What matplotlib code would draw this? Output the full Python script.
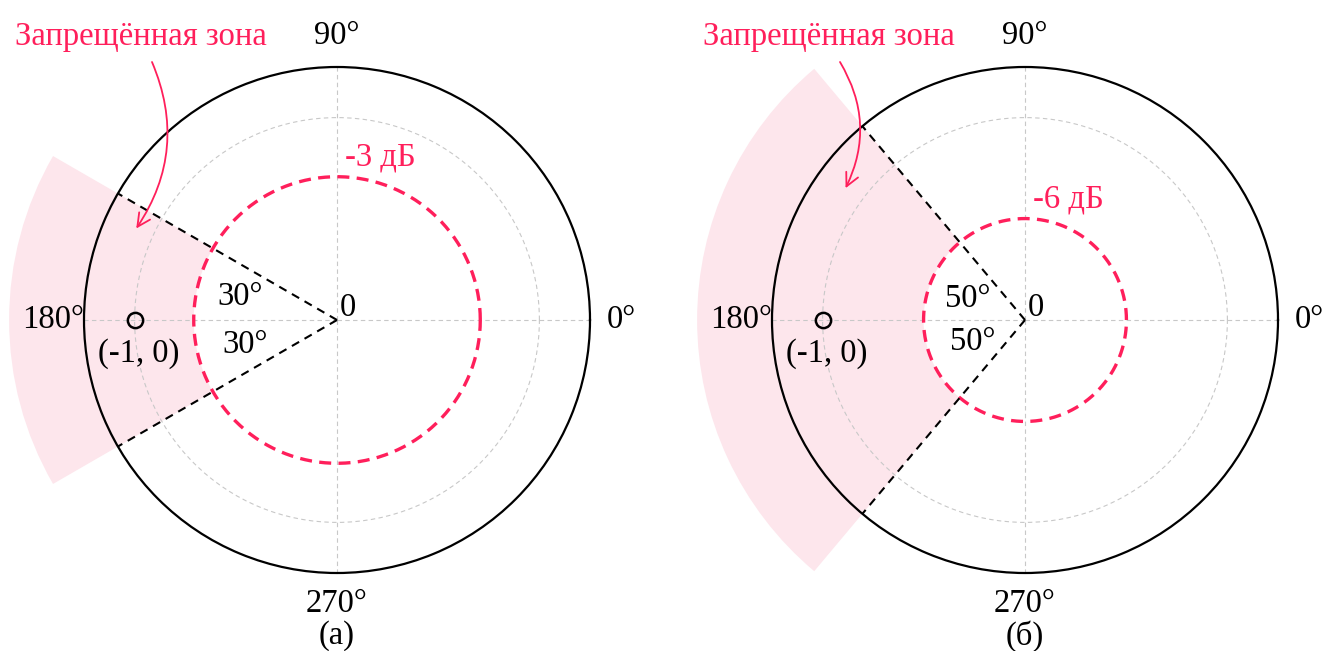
import numpy as np
import matplotlib
matplotlib.use('Agg')
import matplotlib.pyplot as plt

plt.rcParams['font.family'] = ['Liberation Serif', 'DejaVu Serif']
plt.rcParams['font.size'] = 23.5

# данные двух диаграмм
half_angles = [30, 50]            # половина запрещённой зоны, град
db_levels = [-3, -6]              # уровень запаса по усилению
db_labels = ['-3 дБ', '-6 дБ']
captions = ['(а)', '(б)']
zone_label = 'Запрещённая зона'
r_outer = 1.25                    # граница графика
r_zone = 1.62                     # внешний край розовой зоны
crit_point = (np.pi, 1.0)         # точка (-1, 0)

# положения подписей углов (theta, r) и конца стрелки
angle_label_pos = [[(166.7, 0.49), (195.2, 0.47)],
                   [(159.8, 0.30), (202.9, 0.28)]]
arrow_end = [(155.5, 1.09), (143.7, 1.10)]

red = '#ff1f5b'
pink = '#fde6ec'

fig = plt.figure(figsize=(13.26, 6.51), dpi=100)
lefts = [84 / 1326, 772 / 1326]

for i in range(2):
    ax = fig.add_axes([lefts[i], 78 / 651, 506 / 1326, 506 / 651], projection='polar')
    ax.set_ylim(0, r_outer)
    ax.set_yticks([1.0])
    ax.set_yticklabels([])
    ax.set_thetagrids([0, 90, 180, 270], labels=['0°', '90°', '180°', '270°'])
    ax.tick_params(axis='x', pad=12, labelsize=23.5)
    ax.grid(color='#c8c8c8', ls=(0, (4, 3)), lw=0.8)
    ax.spines['polar'].set_linewidth(1.6)

    r_db = 10 ** (db_levels[i] / 20)
    half = np.deg2rad(half_angles[i])

    # запрещённая зона
    ax.bar(np.pi, r_zone - r_db, width=2 * half, bottom=r_db, color=pink,
           edgecolor='none', clip_on=False, zorder=0.5)

    # окружность уровня дБ
    th = np.linspace(0, 2 * np.pi, 400)
    ax.plot(th, np.full_like(th, r_db), color=red, lw=2.4, ls=(0, (3.6, 2.2)), zorder=3)

    # границы зоны
    for a in [np.pi - half, np.pi + half]:
        ax.plot([a, a], [0, r_outer], color='black', lw=1.5, ls=(0, (4, 3)), zorder=3)

    # точка (-1, 0)
    ax.plot(*crit_point, 'o', mfc='none', mec='black', ms=11, mew=1.8, zorder=4)
    ax.annotate('(-1, 0)', xy=crit_point, xytext=(3, -24), textcoords='offset points',
                ha='center', va='center')

    ax.annotate('0', xy=(0, 0), xytext=(8, 9), textcoords='offset points',
                ha='center', va='center')
    ax.annotate(db_labels[i], xy=(np.pi / 2, r_db), xytext=(31, 14),
                textcoords='offset points', ha='center', va='center', color=red)

    for (t, r) in angle_label_pos[i]:
        ax.text(np.deg2rad(t), r, f'{half_angles[i]}°', ha='center', va='center')

    # подпись и стрелка
    x0 = (lefts[i] * 1326 + 57) / 1326
    fig.text(x0, 1 - 37 / 651, zone_label, color=red, ha='center', va='center')
    ax.annotate('', xy=(np.deg2rad(arrow_end[i][0]), arrow_end[i][1]),
                xytext=(x0 + 11 / 1326, 1 - 62 / 651), textcoords='figure fraction',
                arrowprops=dict(arrowstyle='->', color=red, lw=1.3,
                                connectionstyle='arc3,rad=-0.27',
                                shrinkA=0, shrinkB=0))

    fig.text((lefts[i] * 1326 + 253) / 1326, 1 - 636 / 651, captions[i],
             ha='center', va='center')

fig.savefig('out.png', dpi=100)
